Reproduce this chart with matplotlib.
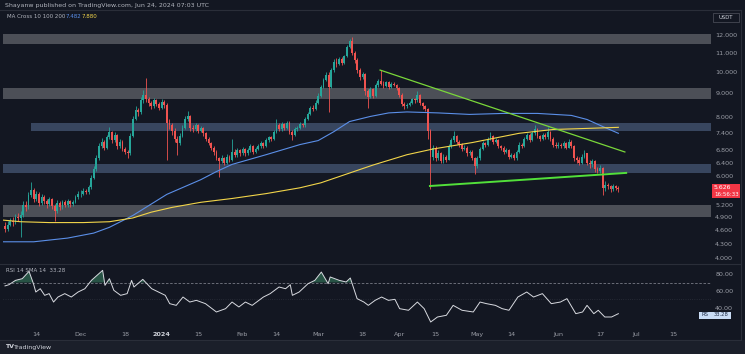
import matplotlib
matplotlib.use("Agg")
import matplotlib.pyplot as plt
from matplotlib.patches import Rectangle

# ======= data: DOT/USDT daily candles, day 0 = 2023-11-02 =======
first_open = 4.70
close = [
    4.62, 4.72, 4.80, 4.78, 4.90, 4.88, 4.95, 5.20, 5.15, 5.45, 5.60, 5.35, 5.50, 5.25, 5.40,
    5.30, 5.22, 5.35, 5.18, 5.05, 5.25, 5.15, 5.28, 5.20, 5.30, 5.22, 5.28, 5.40, 5.48,
    5.50, 5.58, 5.55, 5.68, 5.95, 6.20, 6.55, 6.95, 7.10, 6.90, 7.25, 7.45, 7.15, 7.35, 6.95,
    7.10, 6.85, 6.75, 6.70, 7.30, 7.95, 8.30, 8.20, 8.70, 8.95, 8.75, 8.60, 8.45, 8.70, 8.55, 8.40,
    8.65, 8.50, 7.80, 7.70, 7.50, 7.20, 7.05, 7.30, 7.60, 7.95, 8.05, 7.60, 7.55, 7.70, 7.50,
    7.60, 7.40, 7.20, 7.05, 6.90, 6.75, 6.55, 6.45, 6.55, 6.40, 6.60, 6.50, 6.75, 6.65, 6.80, 6.70,
    6.85, 6.70, 6.80, 6.95, 6.75, 6.85, 6.95, 7.05, 6.95, 7.15, 7.25, 7.20, 7.45, 7.70, 7.55,
    7.75, 7.60, 7.80, 7.45, 7.35, 7.55, 7.60, 7.75, 7.70, 7.95, 8.15, 8.40, 8.35, 8.60,
    8.90, 9.30, 9.60, 9.85, 9.30, 10.10, 10.50, 10.40, 10.65, 10.45, 10.80, 11.30, 11.65, 11.00, 10.60,
    10.10, 9.75, 9.90, 9.10, 8.85, 9.20, 8.90, 9.40, 9.55, 9.45, 9.35, 9.50, 9.30, 9.45, 9.40, 9.25,
    8.95, 8.55, 8.45, 8.50, 8.60, 8.75, 8.70, 8.95, 8.60, 8.45, 8.35, 7.50, 6.60, 6.90, 6.55,
    6.70, 6.45, 6.60, 6.50, 6.95, 7.15, 7.30, 7.10, 7.00, 6.85, 6.90, 6.70, 6.75, 6.55, 6.30,
    6.55, 6.85, 7.05, 7.00, 7.20, 7.30, 7.10, 7.15, 6.95, 6.90, 6.75, 6.80, 6.60, 6.65, 6.55,
    6.75, 7.00, 6.95, 7.20, 7.35, 7.15, 7.40, 7.55, 7.30, 7.20, 7.35, 7.25, 7.45, 7.20, 7.00, 6.95,
    7.00, 6.95, 7.05, 6.90, 7.10, 6.95, 6.55, 6.50, 6.40, 6.60, 6.70, 6.40, 6.35, 6.45, 6.20,
    6.15, 6.25, 5.65, 5.75, 5.70, 5.62, 5.70, 5.66, 5.63,
]
high = [
    4.78, 4.80, 4.88, 4.90, 4.98, 5.00, 5.05, 5.30, 5.30, 5.55, 5.82, 5.65, 5.58, 5.55, 5.48,
    5.45, 5.36, 5.42, 5.38, 5.22, 5.32, 5.30, 5.34, 5.32, 5.36, 5.34, 5.34, 5.46, 5.56,
    5.60, 5.66, 5.64, 5.75, 6.02, 6.30, 6.65, 7.05, 7.22, 7.15, 7.35, 7.65, 7.50, 7.45, 7.38,
    7.20, 7.15, 6.92, 6.82, 7.40, 8.05, 8.45, 8.40, 8.85, 9.15, 9.70, 8.85, 8.68, 8.80, 8.75, 8.62,
    8.75, 8.72, 8.60, 7.95, 7.78, 7.58, 7.30, 7.40, 7.70, 8.05, 8.25, 8.10, 7.70, 7.78, 7.75,
    7.68, 7.65, 7.45, 7.25, 7.10, 6.95, 6.80, 6.60, 6.65, 6.60, 6.68, 6.66, 7.20, 6.85, 6.88, 6.86,
    6.92, 6.90, 6.88, 7.02, 7.00, 6.92, 7.02, 7.12, 7.10, 7.22, 7.32, 7.30, 7.52, 7.95, 7.78,
    7.82, 7.80, 7.88, 7.85, 7.52, 7.62, 7.68, 7.82, 7.80, 8.02, 8.22, 8.48, 8.50, 8.70,
    9.00, 9.40, 9.72, 9.98, 10.00, 10.20, 10.65, 10.70, 10.78, 10.75, 10.90, 11.40, 11.75, 11.90, 11.10,
    10.70, 10.20, 10.00, 9.95, 9.20, 9.30, 9.25, 9.48, 9.65, 10.10, 9.55, 9.58, 9.55, 9.52, 9.50, 9.45,
    9.30, 9.00, 8.62, 8.58, 8.68, 8.82, 8.82, 9.10, 8.98, 8.65, 8.50, 8.40, 7.55, 7.00, 6.95,
    6.80, 6.75, 6.68, 6.65, 7.02, 7.22, 7.50, 7.35, 7.15, 7.05, 6.98, 6.95, 6.82, 6.80, 6.60,
    6.62, 6.92, 7.12, 7.10, 7.28, 7.45, 7.35, 7.22, 7.18, 7.00, 6.95, 6.88, 6.85, 6.72, 6.70,
    6.82, 7.08, 7.05, 7.28, 7.42, 7.40, 7.48, 7.70, 7.60, 7.35, 7.42, 7.40, 7.65, 7.50, 7.25, 7.08,
    7.08, 7.05, 7.12, 7.08, 7.20, 7.15, 7.00, 6.62, 6.58, 6.68, 6.80, 6.72, 6.48, 6.52, 6.50,
    6.28, 6.32, 6.28, 5.85, 5.80, 5.74, 5.76, 5.74, 5.70,
]
low = [
    4.55, 4.58, 4.68, 4.70, 4.74, 4.80, 4.45, 4.90, 5.05, 5.10, 5.40, 5.28, 5.30, 5.18, 5.20,
    5.22, 5.12, 5.18, 5.10, 4.80, 5.00, 5.08, 5.10, 5.14, 5.16, 5.16, 5.18, 5.24, 5.36,
    5.42, 5.46, 5.48, 5.50, 5.64, 5.90, 6.15, 6.50, 6.88, 6.80, 6.85, 7.20, 7.05, 7.10, 6.85,
    6.90, 6.78, 6.68, 6.55, 6.65, 7.25, 7.90, 8.05, 8.15, 8.60, 8.65, 8.45, 8.35, 8.40, 8.45, 8.30,
    8.35, 8.40, 6.50, 7.55, 7.35, 7.10, 6.65, 7.00, 7.25, 7.55, 7.85, 7.50, 7.45, 7.48, 7.42,
    7.45, 7.32, 7.12, 6.98, 6.82, 6.65, 6.48, 5.96, 6.38, 6.32, 6.35, 6.42, 6.45, 6.58, 6.60, 6.62,
    6.65, 6.62, 6.65, 6.75, 6.68, 6.70, 6.80, 6.90, 6.88, 6.92, 7.10, 7.12, 7.15, 7.40, 7.48,
    7.50, 7.52, 7.55, 7.38, 7.15, 7.30, 7.48, 7.55, 7.62, 7.65, 7.90, 8.10, 8.25, 8.30,
    8.55, 8.85, 9.25, 9.55, 8.20, 9.25, 10.00, 10.25, 10.35, 10.35, 10.40, 10.75, 11.25, 10.90, 10.45,
    9.95, 9.60, 9.65, 8.95, 8.40, 8.80, 8.82, 8.85, 9.30, 9.38, 9.25, 9.28, 9.22, 9.25, 9.32, 9.15,
    8.85, 8.45, 8.35, 8.38, 8.45, 8.55, 8.60, 8.65, 8.50, 8.35, 8.25, 7.20, 5.62, 6.50, 6.45,
    6.48, 6.38, 6.40, 6.42, 6.48, 6.90, 7.10, 7.02, 6.92, 6.78, 6.80, 6.62, 6.65, 6.48, 6.05,
    6.25, 6.50, 6.80, 6.92, 6.95, 7.15, 7.02, 7.05, 6.88, 6.82, 6.68, 6.70, 6.52, 6.55, 6.48,
    6.50, 6.72, 6.88, 6.92, 7.15, 7.08, 7.12, 7.35, 7.22, 7.12, 7.15, 7.18, 7.20, 7.12, 6.92, 6.88,
    6.90, 6.88, 6.90, 6.85, 6.88, 6.88, 6.45, 6.40, 6.32, 6.35, 6.55, 6.32, 6.25, 6.28, 6.12,
    6.08, 6.10, 5.46, 5.58, 5.62, 5.55, 5.58, 5.60, 5.55,
]

# moving averages (day, price)
ma100_day = [-1, 11, 24, 34, 40, 49, 62, 75, 81, 87, 100, 113, 120, 126, 132, 140, 147,
             154, 166, 178, 191, 204, 217, 223, 229, 235]
ma100_val = [4.34, 4.34, 4.42, 4.53, 4.66, 4.94, 5.48, 5.89, 6.13, 6.35, 6.66, 7.00, 7.14,
             7.46, 7.84, 8.04, 8.18, 8.22, 8.18, 8.12, 8.16, 8.16, 8.08, 7.92, 7.65, 7.40]
ma200_day = [-1, 6, 17, 30, 40, 49, 56, 64, 75, 87, 100, 113, 121, 128, 141, 154, 164,
             179, 197, 210, 223, 235]
ma200_val = [4.83, 4.79, 4.77, 4.77, 4.79, 4.88, 5.02, 5.14, 5.27, 5.37, 5.50, 5.66, 5.80,
             5.98, 6.33, 6.66, 6.85, 7.07, 7.40, 7.54, 7.58, 7.62]

# drawn trendlines (day, price)
upper_tl_day = [143.7, 237.5]
upper_tl_val = [10.1, 6.75]
lower_tl_day = [162.8, 238.0]
lower_tl_val = [5.71, 6.09]

# support / resistance zones
zone_lo = [11.46, 8.74, 7.47, 6.08, 4.90]
zone_hi = [12.04, 9.24, 7.78, 6.37, 5.20]
zone_start = [None, None, 9.9, None, None]
zone_kind = ["gray", "gray", "blue", "blue", "gray"]

# RSI 14 (day, value)
rsi_day = [0, 1.5, 4, 6.6, 9.2, 10.9, 11.8, 13.5, 15.2, 16.9, 18.6, 20.3, 22.9, 25.4, 28, 30.6,
           33.1, 37.4, 38.3, 40, 41.7, 44.3, 46.8, 48.5, 49.4, 52.8, 56.2, 58.8, 61.4, 63.1,
           65.6, 68.2, 70.8, 73.3, 76.8, 81, 84.5, 87, 89.6, 92.1, 94.7, 99, 101.6, 105, 107.5,
           109.3, 110.1, 112.7, 116.1, 118.7, 121.2, 123.8, 124.6, 128.1, 130.7, 132.3, 134.9,
           137.5, 139.2, 141.8, 144.3, 146.9, 149.4, 151.2, 154.6, 158, 160.6, 163.1, 165.7,
           169.1, 171.7, 175.1, 179.4, 182, 184.5, 187.9, 190.5, 193.1, 196.5, 199.9, 202.5,
           205.9, 209.3, 212.8, 215.3, 218.7, 221.3, 223, 225.6, 227.3, 229.8, 232.4, 235]
rsi_val = [66, 67.4, 72.5, 74.5, 83.1, 68.6, 58.8, 62.7, 54.9, 56.9, 47, 52.9, 56.9, 52.9, 58.8,
           62.7, 72.5, 84.3, 66.7, 74.5, 60.8, 54.9, 56.9, 72.5, 64.7, 73.7, 62.7, 58.8, 54.9,
           45.1, 43.1, 52.9, 47, 49, 45.1, 35.3, 39.2, 47, 41.2, 47, 43.1, 52.9, 56.9, 64.7, 62.7,
           67.4, 54.9, 58.8, 68.6, 72.5, 82.3, 68.6, 76.5, 72.5, 70.6, 75.3, 51, 47, 43.1, 49,
           52.9, 49, 50.2, 39.2, 37.3, 47, 39.2, 23.5, 29.4, 31.4, 43.1, 37.3, 35.3, 47, 45.1,
           43.1, 39.2, 37.3, 52.9, 58.8, 52.9, 56.9, 45.1, 47, 51, 33.3, 35.3, 43.1, 33.3, 37.3,
           29.4, 29.4, 33.3]

price_ticks = [12, 11, 10, 9, 8, 7.4, 6.8, 6.4, 6.0, 5.2, 4.9, 4.6, 4.3, 4.0]
rsi_ticks = [80, 60, 40]
date_ticks = [12, 29, 46, 60, 74, 91, 104, 120, 137, 151, 165, 181, 194, 212, 228, 242, 256]
date_labels = ["14", "Dec", "18", "2024", "15", "Feb", "14", "Mar", "18", "Apr", "15",
               "May", "14", "Jun", "17", "Jul", "15"]

# ======= styling =======
BG = "#131722"
UP, DOWN = "#26a69a", "#ef5350"
TXT = "#9a9da6"
W, H = 745, 354
X0, X1 = -0.77, 270.5


def fx(px):
    return px / W


def fy(py):
    return 1 - py / H


fig = plt.figure(figsize=(W / 100, H / 100), dpi=100, facecolor=BG)
ax = fig.add_axes([fx(3), fy(263), fx(708), 253 / H], facecolor=BG)
ar = fig.add_axes([fx(3), fy(326), fx(708), 61 / H], facecolor=BG)

# footer strip
fig.patches.append(Rectangle((0, 0), 1, fy(340), transform=fig.transFigure,
                             facecolor="#1b1f2a", edgecolor="none", zorder=0))

# ======= price pane =======
ax.set_yscale("log")
ax.set_xlim(X0, X1)
ax.set_ylim(3.91, 13.57)

for lo, hi, st, kind in zip(zone_lo, zone_hi, zone_start, zone_kind):
    c = "#4c4f57" if kind == "gray" else "#38465f"
    ax.fill_between([X0 if st is None else st, X1], lo, hi, color=c, lw=0, zorder=1)

opens = [first_open] + close[:-1]
for i, (o, c, h, l) in enumerate(zip(opens, close, high, low)):
    col = UP if c >= o else DOWN
    ax.vlines(i, l, h, color=col, lw=0.6, zorder=2)
    ax.bar(i, max(abs(c - o), 0.01), bottom=min(o, c), width=0.7, color=col, lw=0, zorder=2)

ax.plot(ma100_day, ma100_val, color="#5b8fe8", lw=0.8, zorder=3)
ax.plot(ma200_day, ma200_val, color="#f2d54a", lw=0.8, zorder=3)
ax.plot(upper_tl_day, upper_tl_val, color="#7ad83a", lw=0.9, zorder=4)
ax.plot(lower_tl_day, lower_tl_val, color="#52e03a", lw=1.4, zorder=4)

ax.yaxis.tick_right()
ax.set_yticks(price_ticks)
ax.set_yticklabels(["%.3f" % t for t in price_ticks])
ax.minorticks_off()
ax.set_xticks([])
ax.tick_params(axis="y", length=0, pad=3, labelsize=4.6, labelcolor=TXT)
for s in ax.spines.values():
    s.set_visible(False)

# ======= RSI pane =======
ar.set_xlim(X0, X1)
ar.set_ylim(18.8, 90.6)
ar.axhline(70, color="#787b86", lw=0.6, ls=(0, (3, 2)))
ar.axhline(50, color="#4a4e5a", lw=0.4, ls=(0, (1, 3)))
ar.fill_between(rsi_day, 70, rsi_val, where=[v > 70 for v in rsi_val], interpolate=True,
                color="#2a5a4a", lw=0, alpha=0.9)
ar.plot(rsi_day, rsi_val, color="#d8dae0", lw=0.7)
ar.yaxis.tick_right()
ar.set_yticks(rsi_ticks)
ar.set_yticklabels(["%.2f" % t for t in rsi_ticks])
ar.set_xticks(date_ticks)
ar.set_xticklabels(date_labels)
ar.tick_params(axis="y", length=0, pad=3, labelsize=4.6, labelcolor=TXT)
ar.tick_params(axis="x", length=0, pad=4, labelsize=4.6, labelcolor=TXT)
for lab in ar.get_xticklabels():
    if lab.get_text() == "2024":
        lab.set_color("#d1d4dc")
        lab.set_fontweight("bold")
for s in ar.spines.values():
    s.set_visible(False)

# pane separators and frame
for y in (264, 340):
    fig.add_artist(plt.Line2D([fx(0), fx(741)], [fy(y), fy(y)], color="#2a2e39", lw=0.8))
fig.add_artist(plt.Line2D([fx(741), fx(741)], [fy(10), fy(340)], color="#2a2e39", lw=0.8))
fig.add_artist(plt.Line2D([fx(0), fx(741)], [fy(10), fy(10)], color="#2a2e39", lw=0.8))

# ======= texts =======
fig.text(fx(5), fy(5), "Shayanw published on TradingView.com, Jun 24, 2024 07:03 UTC",
         fontsize=4.5, color="#b2b5be", va="center")
fig.text(fx(7), fy(17), "MA Cross 10 100 200", fontsize=4, color="#b2b5be", va="center")
fig.text(fx(66), fy(17), "7.482", fontsize=4, color="#5b8fe8", va="center")
fig.text(fx(82), fy(17), "7.880", fontsize=4, color="#f2d54a", va="center")
fig.text(fx(6), fy(270), "RSI 14 SMA 14  33.28", fontsize=4, color="#b2b5be", va="center")

# price axis unit box
fig.patches.append(Rectangle((fx(713), fy(22)), fx(26), 9 / H, transform=fig.transFigure,
                             facecolor=BG, edgecolor="#50535e", lw=0.5))
fig.text(fx(726), fy(17.5), "USDT", fontsize=3.8, color="#d1d4dc", ha="center", va="center")

# last price label
fig.patches.append(Rectangle((fx(712), fy(198)), fx(28), 14 / H, transform=fig.transFigure,
                             facecolor="#f23645", edgecolor="none"))
fig.text(fx(714), fy(187.5), "5.626", fontsize=4.4, color="white", va="center")
fig.text(fx(714), fy(194.5), "16:56:33", fontsize=4.0, color="white", va="center")

# RSI value label
fig.patches.append(Rectangle((fx(699), fy(318.5)), fx(32), 7 / H, transform=fig.transFigure,
                             facecolor="#c9dcf5", edgecolor="none"))
fig.text(fx(701), fy(315), "RS", fontsize=3.8, color="#1d2a44", va="center")
fig.text(fx(729), fy(315), "33.28", fontsize=3.8, color="#1d2a44", va="center", ha="right")

# footer logo
fig.text(fx(5), fy(347), "TV", fontsize=4.5, color="#d1d4dc", va="center", fontweight="bold")
fig.text(fx(14), fy(347), "TradingView", fontsize=4.5, color="#d1d4dc", va="center")

fig.savefig("out.png", dpi=100, facecolor=BG)
